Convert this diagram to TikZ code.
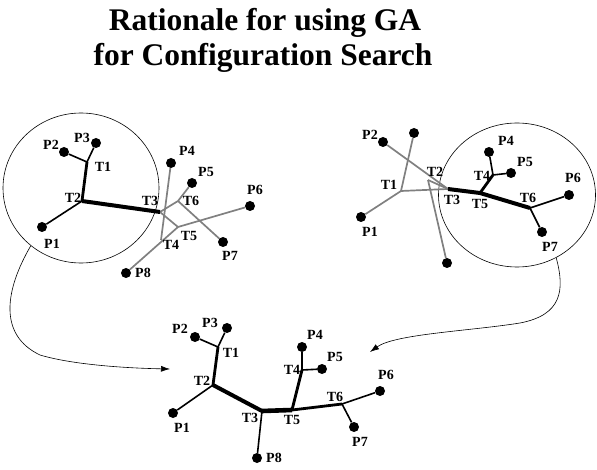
\documentclass[tikz,border=0pt]{standalone}
\usepackage{fontspec}
\setmainfont{Liberation Serif}
\usetikzlibrary{arrows.meta, shapes.geometric}

\begin{document}
\begin{tikzpicture}[
  x=1pt, y=-1pt,
  pdot/.style={circle, fill=black, inner sep=0pt, minimum size=10pt},
  lbl/.style={font=\fontsize{14}{14}\selectfont\bfseries, inner sep=0pt},
  heading/.style={font=\fontsize{31.5}{31.5}\selectfont\bfseries, inner sep=0pt, anchor=base},
  ring/.style={draw, ellipse, inner sep=0pt, line width=0.6pt},
  leaf/.style={line width=1.6pt},
  trunk/.style={line width=2.8pt},
  spine/.style={line width=4pt},
  bad/.style={line width=1.7pt, black!50},
  move/.style={-{Latex[length=9pt,width=6pt]}, line width=0.6pt},
]
\useasboundingbox (0,0) rectangle (597,470);

% Title
\node[heading] (title1) at (265,31) {Rationale for using GA};
\node[heading] (title2) at (263,66) {for Configuration Search};

% Circles
\node[ring, minimum width=156pt, minimum height=150pt] (lring) at (81,188) {};
\node[ring, minimum width=157pt, minimum height=144pt] (rring) at (517,195) {};

% Left tree: terminals and junctions
\node[pdot] (lp1) at (42,227) {};
\node[pdot] (lp2) at (64,152) {};
\node[pdot] (lp3) at (96,143) {};
\node[pdot] (lp4) at (171,163) {};
\node[pdot] (lp5) at (192,183) {};
\node[pdot] (lp6) at (250,206) {};
\node[pdot] (lp7) at (223,242) {};
\node[pdot] (lp8) at (126,273) {};
\coordinate (lt1) at (87,162);
\coordinate (lt2) at (82,201);
\coordinate (lt3) at (160,212);
\coordinate (lt4) at (161,240);
\coordinate (lt5) at (178,227);
\coordinate (lt6) at (178,201);

% Left tree: wrong part
\draw[bad] (lp5) -- (lt6);
\draw[bad] (lt6) -- (lt3);
\draw[bad] (lt6) -- (lp7);
\draw[bad] (lt3) -- (lt5);
\draw[bad] (lt5) -- (lp6);
\draw[bad] (lp8) -- (lt5);
\draw[bad] (lp4) -- (lt4);

% Left tree: good part
\draw[leaf] (lp1) -- (lt2);
\draw[trunk] (lt2) -- (lt1);
\draw[leaf] (lt1) -- (lp2);
\draw[leaf] (lt1) -- (lp3);
\draw[spine] (lt2) -- (lt3);

% Left tree: labels
\node[lbl] (lp1l) at (52,244) {P1};
\node[lbl] (lp2l) at (51,145) {P2};
\node[lbl] (lp3l) at (82,138) {P3};
\node[lbl] (lp4l) at (187,151) {P4};
\node[lbl] (lp5l) at (206,172) {P5};
\node[lbl] (lp6l) at (255,190) {P6};
\node[lbl] (lp7l) at (230,256) {P7};
\node[lbl] (lp8l) at (143,273) {P8};
\node[lbl] (lt1l) at (103,167) {T1};
\node[lbl] (lt2l) at (73,198) {T2};
\node[lbl] (lt3l) at (150,201) {T3};
\node[lbl] (lt4l) at (171,245) {T4};
\node[lbl] (lt5l) at (189,236) {T5};
\node[lbl] (lt6l) at (191,201) {T6};

% Right tree: terminals and junctions
\node[pdot] (rp1) at (361,217) {};
\node[pdot] (rp2) at (383,142) {};
\node[pdot] (rp3) at (414,133) {};
\node[pdot] (rp4) at (489,152) {};
\node[pdot] (rp5) at (511,173) {};
\node[pdot] (rp6) at (569,195) {};
\node[pdot] (rp7) at (542,232) {};
\node[pdot] (rp8) at (447,263) {};
\coordinate (rt1) at (401,191);
\coordinate (rt2) at (428,180);
\coordinate (rt3) at (448,189);
\coordinate (rt4) at (493,175);
\coordinate (rt5) at (480,193);
\coordinate (rt6) at (530,208);

% Right tree: wrong part
\draw[bad] (rp2) -- (rt3);
\draw[bad] (rp3) -- (rt1);
\draw[bad] (rt1) -- (rp1);
\draw[bad] (rt1) -- (rt3);
\draw[bad] (rt2) -- (rp8);
\draw[bad] (rt2) -- (rt3);

% Right tree: good part
\draw[spine] (rt3) -- (rt5);
\draw[spine] (rt5) -- (rt6);
\draw[trunk] (rt5) -- (rt4);
\draw[leaf] (rt4) -- (rp4);
\draw[leaf] (rt4) -- (rp5);
\draw[leaf] (rt6) -- (rp6);
\draw[leaf] (rt6) -- (rp7);

% Right tree: labels
\node[lbl] (rp1l) at (370,232) {P1};
\node[lbl] (rp2l) at (370,135) {P2};
\node[lbl] (rp4l) at (506,141) {P4};
\node[lbl] (rp5l) at (525,162) {P5};
\node[lbl] (rp6l) at (573,178) {P6};
\node[lbl] (rp7l) at (550,247) {P7};
\node[lbl] (rt1l) at (389,185) {T1};
\node[lbl] (rt2l) at (435,172) {T2};
\node[lbl] (rt3l) at (452,200) {T3};
\node[lbl] (rt4l) at (482,176) {T4};
\node[lbl] (rt5l) at (480,204) {T5};
\node[lbl] (rt6l) at (528,198) {T6};

% Combined tree: terminals and junctions
\node[pdot] (bp1) at (173,413) {};
\node[pdot] (bp2) at (195,337) {};
\node[pdot] (bp3) at (227,328) {};
\node[pdot] (bp4) at (302,347) {};
\node[pdot] (bp5) at (322,369) {};
\node[pdot] (bp6) at (380,391) {};
\node[pdot] (bp7) at (354,427) {};
\node[pdot] (bp8) at (257,458) {};
\coordinate (bt1) at (218,347);
\coordinate (bt2) at (213,385);
\coordinate (bt3) at (262,411);
\coordinate (bt4) at (302,370);
\coordinate (bt5) at (292,410);
\coordinate (bt6) at (342,404);

% Combined tree: edges
\draw[leaf] (bp1) -- (bt2);
\draw[trunk] (bt2) -- (bt1);
\draw[leaf] (bt1) -- (bp2);
\draw[leaf] (bt1) -- (bp3);
\draw[spine] (bt2) -- (bt3);
\draw[leaf] (bt3) -- (bp8);
\draw[spine, line width=4.6pt] (bt3) -- (bt5);
\draw[trunk] (bt5) -- (bt4);
\draw[leaf] (bt4) -- (bp4);
\draw[leaf] (bt4) -- (bp5);
\draw[trunk] (bt5) -- (bt6);
\draw[leaf] (bt6) -- (bp6);
\draw[leaf] (bt6) -- (bp7);

% Combined tree: labels
\node[lbl] (bp1l) at (182,428) {P1};
\node[lbl] (bp2l) at (180,329) {P2};
\node[lbl] (bp3l) at (210,323) {P3};
\node[lbl] (bp4l) at (315,335) {P4};
\node[lbl] (bp5l) at (335,357) {P5};
\node[lbl] (bp6l) at (386,375) {P6};
\node[lbl] (bp7l) at (360,442) {P7};
\node[lbl] (bp8l) at (274,458) {P8};
\node[lbl] (bt1l) at (231,353) {T1};
\node[lbl] (bt2l) at (202,381) {T2};
\node[lbl] (bt3l) at (250,418) {T3};
\node[lbl] (bt4l) at (292,370) {T4};
\node[lbl] (bt5l) at (292,420) {T5};
\node[lbl] (bt6l) at (335,397) {T6};

% Arrows
\coordinate (lin) at (170,369);
\coordinate (rin) at (370,352);
\draw[move] (lring.-131) .. controls (5,290) and (-2,335) .. (40,355)
  .. controls (70,364) and (120,368) .. (lin);
\draw[move] (rring.-58) .. controls (565,290) and (562,315) .. (520,323)
  .. controls (470,331) and (395,334) .. (rin);

\end{tikzpicture}
\end{document}
